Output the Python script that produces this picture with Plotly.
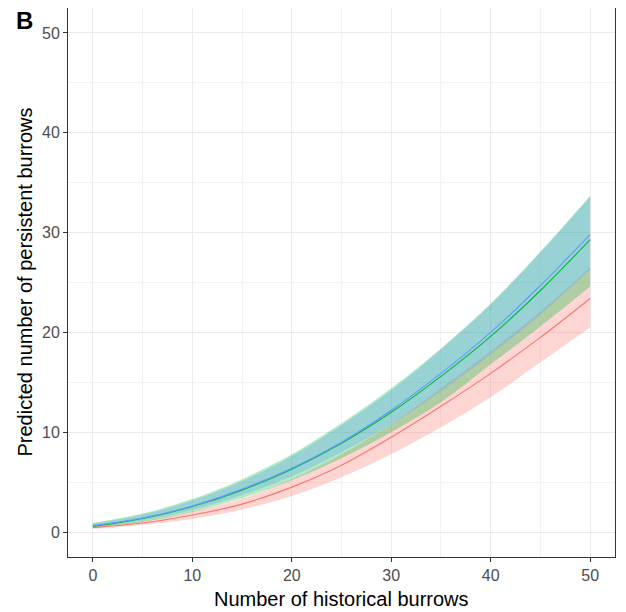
import plotly.graph_objects as go

# Number of historical burrows
x_vals = [0, 5, 10, 15, 20, 25, 30, 35, 40, 45, 50]

# Series 1 (red)
red_fit = [0.45, 0.9, 1.7, 2.8, 4.5, 6.7, 9.5, 12.6, 15.9, 19.5, 23.4]
red_lo = [0.3, 0.7, 1.3, 2.25, 3.6, 5.5, 7.8, 10.5, 13.5, 17.0, 20.5]
red_hi = [0.55, 1.1, 2.05, 3.35, 5.3, 7.8, 10.8, 14.4, 18.1, 22.1, 26.5]

# Series 2 (green)
green_fit = [0.55, 1.35, 2.55, 4.2, 6.3, 8.9, 12.0, 15.6, 19.6, 24.2, 29.3]
green_lo = [0.4, 1.0, 2.0, 3.4, 5.2, 7.4, 10.0, 13.0, 16.8, 20.6, 24.6]
green_hi = [0.9, 1.85, 3.3, 5.3, 7.8, 10.9, 14.4, 18.4, 22.9, 28.1, 33.7]

# Series 3 (blue)
blue_fit = [0.65, 1.4, 2.6, 4.3, 6.4, 9.0, 12.2, 15.9, 20.0, 24.7, 29.8]
blue_lo = [0.5, 1.15, 2.2, 3.7, 5.6, 8.0, 10.8, 14.1, 17.8, 21.8, 26.3]
blue_hi = [0.85, 1.75, 3.15, 5.1, 7.6, 10.7, 14.2, 18.3, 22.8, 28.0, 33.6]

y_ticks = [0, 10, 20, 30, 40, 50]
x_ticks = [0, 10, 20, 30, 40, 50]

series = [
    (red_fit, red_lo, red_hi, "#F8766D", "rgba(248,118,109,0.3)"),
    (green_fit, green_lo, green_hi, "#00BA38", "rgba(0,186,56,0.3)"),
    (blue_fit, blue_lo, blue_hi, "#619CFF", "rgba(97,156,255,0.3)"),
]

FONT = "Liberation Sans, Arial, sans-serif"

fig = go.Figure()
for fit, lo, hi, col, fcol in series:
    fig.add_trace(go.Scatter(x=x_vals, y=lo, mode="lines",
                             line=dict(width=0, shape="spline"),
                             showlegend=False, hoverinfo="skip"))
    fig.add_trace(go.Scatter(x=x_vals, y=hi, mode="lines",
                             line=dict(width=0, shape="spline"),
                             fill="tonexty", fillcolor=fcol,
                             showlegend=False, hoverinfo="skip"))
for fit, lo, hi, col, fcol in series:
    fig.add_trace(go.Scatter(x=x_vals, y=fit, mode="lines",
                             line=dict(color=col, width=1.1, shape="spline"),
                             showlegend=False))

axis_common = dict(
    showgrid=True, gridcolor="#EBEBEB", gridwidth=1,
    zeroline=False,
    showline=True, mirror=True, linecolor="#333333", linewidth=1,
    ticks="outside", ticklen=4, tickcolor="#333333", tickwidth=1,
    tickfont=dict(family=FONT, size=16, color="#4D4D4D"),
    minor=dict(showgrid=True, gridcolor="#F2F2F2", gridwidth=1, dtick=5, ticks=""),
)

fig.update_xaxes(range=[-2.5, 52.5], tickvals=x_ticks, **axis_common)
fig.update_yaxes(range=[-2.5, 52.5], tickvals=y_ticks, **axis_common)

fig.update_layout(
    width=618, height=604,
    margin=dict(l=60, r=11, t=0, b=55),
    plot_bgcolor="white", paper_bgcolor="white",
    font=dict(family=FONT, color="black"),
    showlegend=False,
    annotations=[
        dict(text="Number of historical burrows", xref="paper", yref="paper",
             x=0.5, y=-0.0765, xanchor="center", yanchor="middle",
             showarrow=False, font=dict(family=FONT, size=20, color="black")),
        dict(text="Predicted number of persistent burrows", xref="paper", yref="paper",
             x=-0.0804, y=0.5, xanchor="center", yanchor="middle", textangle=-90,
             showarrow=False, font=dict(family=FONT, size=20, color="black")),
        dict(text="<b>B</b>", xref="paper", yref="paper",
             x=-0.0987, y=0.9772, xanchor="left", yanchor="middle",
             showarrow=False, font=dict(family=FONT, size=24, color="black")),
    ],
)

fig.write_html("out.html")
